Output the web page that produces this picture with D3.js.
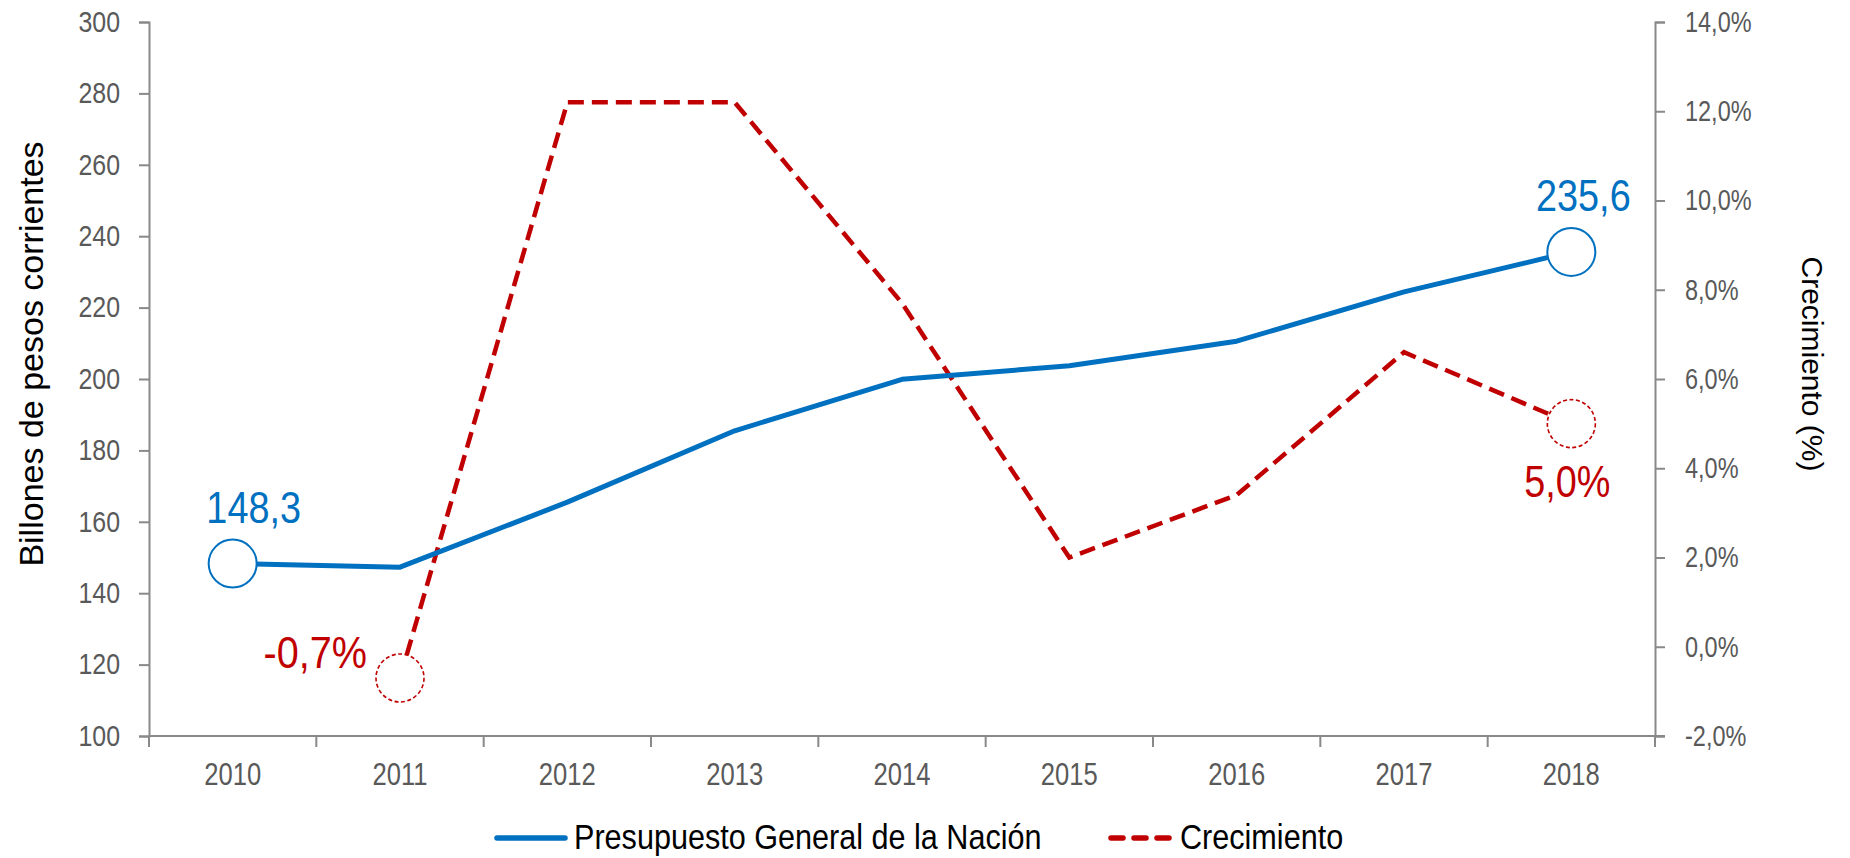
<!DOCTYPE html>
<html>
<head>
<meta charset="utf-8">
<script src="https://cdn.jsdelivr.net/npm/d3@7"></script>
<style>
  body { margin: 0; background: #fff; }
  text { font-family: 'Liberation Sans', Arial, sans-serif; }
  .tick text { fill: #595959; }
</style>
</head>
<body>
<div id="chart"></div>
<script>
const years = ['2010', '2011', '2012', '2013', '2014', '2015', '2016', '2017', '2018']
const presupuesto = [148.3, 147.3, 165.5, 185.5, 199.9, 203.7, 210.6, 224.4, 235.6]
const crecimiento = [null, -0.7, 12.2, 12.2, 7.7, 2.0, 3.4, 6.6, 5.0]
const leftTicks = [100, 120, 140, 160, 180, 200, 220, 240, 260, 280, 300]
const rightTicks = [-2, 0, 2, 4, 6, 8, 10, 12, 14]
const legendLabels = ['Presupuesto General de la Nación', 'Crecimiento']

const width = 1850
const height = 858
const margin = {top: 22, right: 195, bottom: 122, left: 149}
const blue = '#0070C0'
const red = '#C00000'
const axisGray = '#898989'

const svg = d3.select('#chart').append('svg')
    .attr('width', width)
    .attr('height', height)

const x = d3.scaleBand()
    .domain(years)
    .range([margin.left, width - margin.right])
const yL = d3.scaleLinear()
    .domain([100, 300])
    .range([height - margin.bottom, margin.top])
const yR = d3.scaleLinear()
    .domain([-2, 14])
    .range([height - margin.bottom, margin.top])

const cx = function (d, i) { return x(years[i]) + x.bandwidth() / 2 }
const fmt = function (v, digits) { return v.toFixed(digits).replace('.', ',') }

// squeeze text horizontally around its anchor point (the chart uses condensed fonts)
function condense (sel, sx) {
  sel.each(function () {
    const t = d3.select(this)
    const tx = +t.attr('x') || 0
    const ty = +t.attr('y') || 0
    t.attr('x', 0).attr('y', 0)
      .attr('transform', 'translate(' + tx + ',' + ty + ') scale(' + sx + ',1)')
  })
}

// axes
const yAxisL = d3.axisLeft(yL).tickValues(leftTicks).tickSize(10).tickPadding(19)
const yAxisR = d3.axisRight(yR).tickValues(rightTicks).tickSize(10).tickPadding(20)
    .tickFormat(function (d) { return fmt(d, 1) + '%' })
const xAxis = d3.axisBottom(x).tickSize(0).tickPadding(26)

function styleAxis (g) {
  g.select('.domain').attr('stroke', axisGray).attr('stroke-width', 2)
  g.selectAll('.tick line').attr('stroke', axisGray).attr('stroke-width', 2)
}

svg.append('g')
    .attr('transform', 'translate(' + margin.left + ',0)')
    .call(yAxisL)
    .call(styleAxis)
  .selectAll('.tick text')
    .style('font-size', '29px')
    .call(condense, 0.86)

svg.append('g')
    .attr('transform', 'translate(' + (width - margin.right) + ',0)')
    .call(yAxisR)
    .call(styleAxis)
  .selectAll('.tick text')
    .style('font-size', '29px')
    .call(condense, 0.81)

const gx = svg.append('g')
    .attr('transform', 'translate(0,' + (height - margin.bottom) + ')')
    .call(xAxis)
    .call(styleAxis)
gx.select('.domain').attr('d', 'M' + margin.left + ',0H' + (width - margin.right + 10))
gx.selectAll('.tick text')
    .style('font-size', '32px')
    .call(condense, 0.8)
// category boundary ticks
gx.selectAll('.bound')
  .data(d3.range(years.length + 1))
  .enter().append('line')
    .attr('x1', function (i) { return margin.left + i * x.step() })
    .attr('x2', function (i) { return margin.left + i * x.step() })
    .attr('y1', 0)
    .attr('y2', 11)
    .attr('stroke', axisGray)
    .attr('stroke-width', 2)

// axis titles
svg.append('text')
    .attr('transform', 'translate(43,354)rotate(-90)')
    .attr('text-anchor', 'middle')
    .style('font-size', '34px')
    .text('Billones de pesos corrientes')

svg.append('text')
    .attr('transform', 'translate(1802,364)rotate(90)')
    .attr('text-anchor', 'middle')
    .style('font-size', '30px')
    .text('Crecimiento (%)')

// lines
const lineL = d3.line()
    .x(cx)
    .y(function (d) { return yL(d) })
const lineR = d3.line()
    .defined(function (d) { return d !== null })
    .x(cx)
    .y(function (d) { return yR(d) })

svg.append('path')
    .datum(crecimiento)
    .attr('d', lineR)
    .attr('fill', 'none')
    .attr('stroke', red)
    .attr('stroke-width', 4.5)
    .attr('stroke-dasharray', '16,8')

svg.append('path')
    .datum(presupuesto)
    .attr('d', lineL)
    .attr('fill', 'none')
    .attr('stroke', blue)
    .attr('stroke-width', 5)
    .attr('stroke-linejoin', 'round')

// highlighted end points
const r = 24
const blueIdx = [0, years.length - 1]
const redIdx = [1, years.length - 1]

svg.selectAll('.bdot')
  .data(blueIdx)
  .enter().append('circle')
    .attr('cx', function (i) { return cx(null, i) })
    .attr('cy', function (i) { return yL(presupuesto[i]) })
    .attr('r', r)
    .attr('fill', '#fff')
    .attr('stroke', blue)
    .attr('stroke-width', 2)

svg.selectAll('.rdot')
  .data(redIdx)
  .enter().append('circle')
    .attr('cx', function (i) { return cx(null, i) })
    .attr('cy', function (i) { return yR(crecimiento[i]) })
    .attr('r', r)
    .attr('fill', '#fff')
    .attr('stroke', red)
    .attr('stroke-width', 1.6)
    .attr('stroke-dasharray', '4,2.5')

// data labels
const labelSize = '44px'
svg.selectAll('.blabel')
  .data(blueIdx)
  .enter().append('text')
    .attr('x', function (i) { return cx(null, i) + (i === 0 ? 21 : 12) })
    .attr('y', function (i) { return yL(presupuesto[i]) - 41 })
    .attr('text-anchor', 'middle')
    .attr('fill', blue)
    .style('font-size', labelSize)
    .text(function (i) { return fmt(presupuesto[i], 1) })
    .call(condense, 0.86)

svg.append('text')
    .attr('x', cx(null, 1) - 33)
    .attr('y', yR(crecimiento[1]) - 10)
    .attr('text-anchor', 'end')
    .attr('fill', red)
    .style('font-size', labelSize)
    .text(fmt(crecimiento[1], 1) + '%')
    .call(condense, 0.9)

svg.append('text')
    .attr('x', cx(null, 8) - 4)
    .attr('y', yR(crecimiento[8]) + 73)
    .attr('text-anchor', 'middle')
    .attr('fill', red)
    .style('font-size', labelSize)
    .text(fmt(crecimiento[8], 1) + '%')
    .call(condense, 0.86)

// legend
const legend = svg.append('g').attr('transform', 'translate(0,838)')
const legendItems = [
  {label: legendLabels[0], color: blue, dash: null, x: 497, len: 68},
  {label: legendLabels[1], color: red, dash: '12,11', x: 1111, len: 60}
]
legendItems.forEach(function (d) {
  legend.append('line')
      .attr('x1', d.x)
      .attr('x2', d.x + d.len)
      .attr('stroke', d.color)
      .attr('stroke-width', 5.5)
      .attr('stroke-linecap', 'round')
      .attr('stroke-dasharray', d.dash)
  legend.append('text')
      .attr('x', d.x + d.len + 9)
      .attr('y', 11)
      .style('font-size', '36px')
      .text(d.label)
      .call(condense, 0.85)
})
</script>
</body>
</html>
